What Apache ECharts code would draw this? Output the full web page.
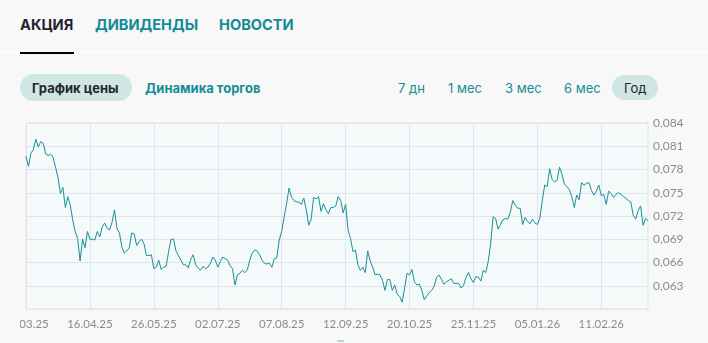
<!DOCTYPE html>
<html>
<head>
<meta charset="utf-8">
<script src="https://cdn.jsdelivr.net/npm/echarts@6/dist/echarts.min.js"></script>
<style>
  html, body { margin: 0; padding: 0; width: 708px; height: 343px; overflow: hidden; background: #f8f8f8; font-family: "Inter", "Lato", sans-serif; }
  .abs { position: absolute; white-space: nowrap; }
  .tab { font-weight: 700; font-size: 14.6px; top: 16px; line-height: 18px; color: #138b94; }
  .sep { left: 0; top: 52px; width: 708px; height: 1px; background: #ffffff; }
  .underline { left: 20px; top: 52px; width: 54px; height: 2px; background: #000; }
  .pill { background: #d0e6e3; border-radius: 14px; }
  .btn { font-size: 13px; line-height: 16px; top: 80px; color: #178c94; }
  #chart { position: absolute; left: 20px; top: 110px; width: 688px; height: 233px; }
  .mark { left: 337px; top: 340px; width: 7px; height: 2px; background: #a6dcdc; }
</style>
</head>
<body>
<div class="abs tab" style="left:20px;color:#1f2433;">АКЦИЯ</div>
<div class="abs tab" style="left:95px;">ДИВИДЕНДЫ</div>
<div class="abs tab" style="left:219px;">НОВОСТИ</div>
<div class="abs sep"></div>
<div class="abs underline"></div>

<div class="abs pill" style="left:20px;top:74px;width:112px;height:27px;"></div>
<div class="abs btn" style="left:32px;font-weight:700;color:#23262f;">График цены</div>
<div class="abs btn" style="left:145px;font-weight:700;">Динамика торгов</div>

<div class="abs btn" style="left:398px;">7 дн</div>
<div class="abs btn" style="left:448px;">1 мес</div>
<div class="abs btn" style="left:505px;">3 мес</div>
<div class="abs btn" style="left:564px;">6 мес</div>
<div class="abs pill" style="left:612px;top:75px;width:46px;height:25px;"></div>
<div class="abs btn" style="left:624px;color:#23262f;">Год</div>

<div id="chart"></div>
<div class="abs mark"></div>

<script>
const tickLabels = ['11.03.25', '16.04.25', '26.05.25', '02.07.25', '07.08.25', '12.09.25', '20.10.25', '25.11.25', '05.01.26', '11.02.26'];

const pricesMarApr = [0.0797, 0.0784, 0.0801, 0.0806, 0.0819, 0.0809, 0.0816, 0.0814, 0.0800, 0.0798,
  0.0800, 0.0796, 0.0783, 0.0770, 0.0749, 0.0757, 0.0731, 0.0745, 0.0734, 0.0715,
  0.0700, 0.0691, 0.0662, 0.0690, 0.0679, 0.0700, 0.0690, 0.0690, 0.0689, 0.0700];
const pricesMayJun = [0.0693, 0.0706, 0.0711, 0.0704, 0.0702, 0.0712, 0.0728, 0.0704, 0.0698, 0.0680,
  0.0672, 0.0675, 0.0679, 0.0698, 0.0697, 0.0682, 0.0687, 0.0690, 0.0684, 0.0669,
  0.0669, 0.0670, 0.0652, 0.0654, 0.0663, 0.0651, 0.0654, 0.0655, 0.0674, 0.0690];
const pricesJulAug = [0.0690, 0.0675, 0.0669, 0.0663, 0.0657, 0.0657, 0.0653, 0.0664, 0.0670, 0.0657,
  0.0653, 0.0650, 0.0655, 0.0652, 0.0654, 0.0659, 0.0667, 0.0663, 0.0654, 0.0661,
  0.0667, 0.0665, 0.0663, 0.0656, 0.0652, 0.0631, 0.0644, 0.0646, 0.0650, 0.0647,
  0.0650, 0.0663, 0.0672, 0.0676, 0.0675, 0.0670, 0.0663, 0.0659, 0.0658, 0.0659,
  0.0654, 0.0665, 0.0666, 0.0689, 0.0700, 0.0719, 0.0736, 0.0756, 0.0744, 0.0740];
const pricesSepOct = [0.0738, 0.0738, 0.0735, 0.0743, 0.0728, 0.0708, 0.0716, 0.0744, 0.0742, 0.0745,
  0.0726, 0.0736, 0.0728, 0.0723, 0.0731, 0.0731, 0.0733, 0.0745, 0.0740, 0.0724,
  0.0735, 0.0702, 0.0691, 0.0674, 0.0676, 0.0657, 0.0650, 0.0654, 0.0647, 0.0675,
  0.0662, 0.0654, 0.0644, 0.0645, 0.0644, 0.0637, 0.0624, 0.0638, 0.0638, 0.0624,
  0.0631, 0.0619, 0.0616, 0.0609, 0.0627, 0.0646, 0.0644, 0.0651, 0.0635, 0.0631];
const pricesNovDec = [0.0632, 0.0624, 0.0612, 0.0617, 0.0621, 0.0624, 0.0629, 0.0641, 0.0644, 0.0638,
  0.0632, 0.0635, 0.0637, 0.0639, 0.0633, 0.0633, 0.0633, 0.0627, 0.0631, 0.0641,
  0.0647, 0.0639, 0.0634, 0.0642, 0.0641, 0.0636, 0.0650, 0.0647, 0.0661, 0.0684,
  0.0719, 0.0717, 0.0703, 0.0709, 0.0715, 0.0717, 0.0716, 0.0725, 0.0740, 0.0734,
  0.0730, 0.0730, 0.0709, 0.0718, 0.0713, 0.0710, 0.0716, 0.0711, 0.0709, 0.0717];
const pricesJanMar = [0.0740, 0.0760, 0.0758, 0.0781, 0.0767, 0.0764, 0.0766, 0.0783, 0.0774, 0.0761,
  0.0758, 0.0754, 0.0745, 0.0731, 0.0747, 0.0741, 0.0763, 0.0760, 0.0762, 0.0763,
  0.0753, 0.0747, 0.0752, 0.0760, 0.0746, 0.0748, 0.0735, 0.0752, 0.0749, 0.0744,
  0.0748, 0.0750, 0.0748, 0.0745, 0.0743, 0.0740, 0.0738, 0.0721, 0.0716, 0.0727,
  0.0733, 0.0708, 0.0717, 0.0714];

const prices = [].concat(pricesMarApr, pricesMayJun, pricesJulAug, pricesSepOct, pricesNovDec, pricesJanMar);
const pointsPerLabel = 26;
const categories = prices.map((_, i) => String(i));

const yMin = 0.060, yMax = 0.084, yStep = 0.003;

const gridColor = '#dfe4f0';
const labelColor = '#8b8b8b';

const chart = echarts.init(document.getElementById('chart'), null, { renderer: 'canvas' });
chart.setOption({
  animation: false,
  grid: {
    show: true, left: 6, right: 60, top: 13, bottom: 34,
    outerBoundsMode: 'none', containLabel: false,
    backgroundColor: '#f4f9fa', borderColor: gridColor, borderWidth: 1
  },
  xAxis: {
    type: 'category', data: categories, boundaryGap: false,
    axisLine: { show: false }, axisTick: { show: false },
    axisLabel: {
      interval: pointsPerLabel - 1, color: labelColor, fontSize: 11.5, margin: 9,
      fontFamily: 'Lato', hideOverlap: false,
      formatter: (v, idx) => (idx % pointsPerLabel === 0 ? (tickLabels[idx / pointsPerLabel] || '') : '')
    },
    splitLine: { show: true, interval: pointsPerLabel - 1, lineStyle: { color: gridColor, width: 1 } }
  },
  yAxis: {
    type: 'value', position: 'right', min: yMin, max: yMax, interval: yStep,
    axisLine: { show: false }, axisTick: { show: false },
    axisLabel: {
      color: labelColor, fontSize: 12, margin: 5, fontFamily: 'Lato', showMinLabel: false,
      formatter: v => v.toFixed(3).replace('.', ',')
    },
    splitLine: { show: true, lineStyle: { color: gridColor, width: 1 } }
  },
  series: [{
    type: 'line', data: prices, showSymbol: false, symbol: 'none',
    lineStyle: { color: '#1b8f98', width: 1 }
  }]
});
</script>
</body>
</html>
